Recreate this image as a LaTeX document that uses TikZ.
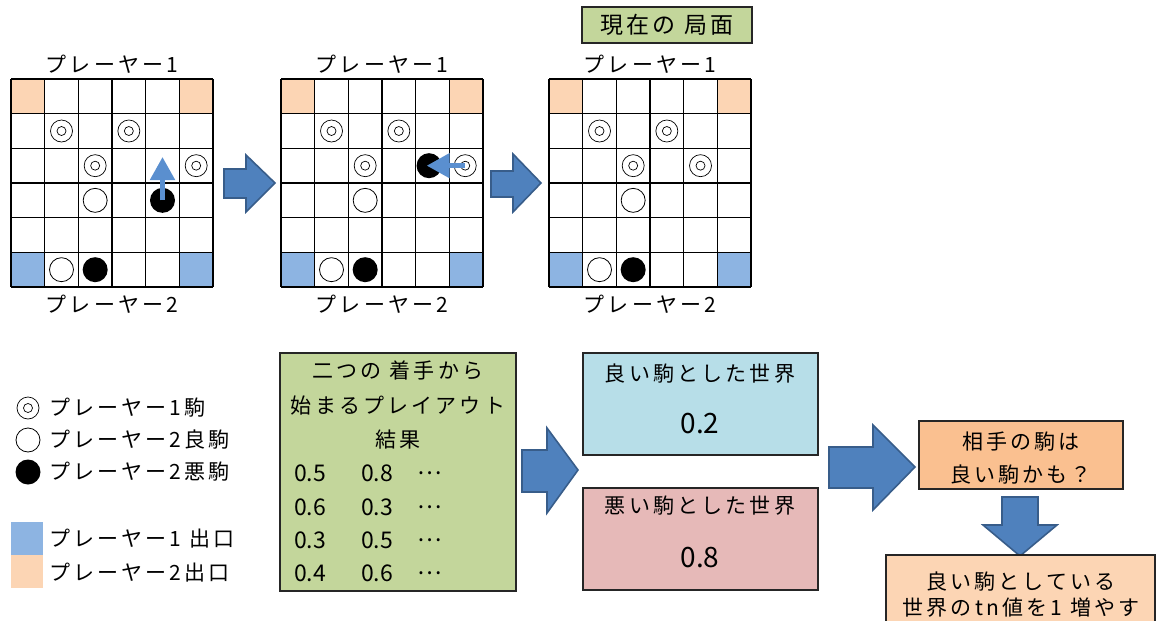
\documentclass[tikz,border=0pt]{standalone}
\usepackage{fontspec}
\setmainfont[LetterSpace=15]{Noto Sans CJK JP}
\newfontfamily\plainnum{Noto Sans CJK JP}
\usetikzlibrary{arrows.meta}
\definecolor{exitpeach}{HTML}{FCD5B4}
\definecolor{exitblue}{HTML}{8DB4E2}
\definecolor{boxgreen}{HTML}{C3D69B}
\definecolor{boxblue}{HTML}{B7DEE8}
\definecolor{boxpink}{HTML}{E6B9B8}
\definecolor{boxorange}{HTML}{FAC090}
\definecolor{arrowfill}{HTML}{4F81BD}
\definecolor{arrowdraw}{HTML}{385D8A}
\definecolor{movecol}{HTML}{5A8FCF}
\begin{document}
\begin{tikzpicture}[x=1pt,y=-1pt,
  every node/.style={inner sep=0pt, outer sep=0pt},
  lbl/.style={font=\fontsize{21}{25}\selectfont},
  numtxt/.style={font=\plainnum\fontsize{23}{26}\selectfont},
  bigtxt/.style={font=\plainnum\fontsize{28}{30}\selectfont},
  boxstyle/.style={draw=black!85, line width=1.3pt},
  pone/.style={circle, draw, line width=0.7pt, minimum size=22pt,
    path picture={\draw[line width=0.7pt] (path picture bounding box.center) circle (4.5pt);}},
  pgood/.style={circle, draw, line width=0.8pt, minimum size=24pt},
  pbad/.style={circle, fill=black, minimum size=25pt},
  movearrow/.style={draw=movecol, line width=5pt, -{Triangle[width=24pt,length=23pt]}},
  blockarrow/.style={fill=arrowfill, draw=arrowdraw, line width=1.6pt, line join=miter},
  gridline/.style={draw=black, line width=1.3pt}
]
\useasboundingbox (0,0) rectangle (1157,621);
\clip (0,0) rectangle (1157,621);

% ---------- boards ----------
\foreach \bx/\bn in {11/1, 281/2, 549/3} {
  \begin{scope}[xshift=\bx pt, yshift=-79pt, x=33.67pt, y=-34.67pt]
    \fill[exitpeach] (0,0) rectangle (1,1);
    \fill[exitpeach] (5,0) rectangle (6,1);
    \fill[exitblue] (0,5) rectangle (1,6);
    \fill[exitblue] (5,5) rectangle (6,6);
    \foreach \i in {0,...,6} {
      \draw[gridline] (\i,0) -- (\i,6);
      \draw[gridline] (0,\i) -- (6,\i);
    }
    \node[lbl] (top\bn) at (3,-0.42) {プレーヤー1};
    \node[lbl] (bot\bn) at (3,6.5) {プレーヤー2};
    \node[pone] (b\bn a) at (1.5,1.5) {};
    \node[pone] (b\bn b) at (3.5,1.5) {};
    \node[pone] (b\bn c) at (2.5,2.5) {};
    \node[pgood] (b\bn d) at (2.5,3.5) {};
    \node[pgood] (b\bn e) at (1.5,5.5) {};
    \node[pbad] (b\bn f) at (2.5,5.5) {};
  \end{scope}
}
% board 1 specifics
\begin{scope}[xshift=11pt, yshift=-79pt, x=33.67pt, y=-34.67pt]
  \node[pone] (b1g) at (5.5,2.5) {};
  \node[pbad] (b1mv) at (4.5,3.5) {};
  \coordinate (b1to) at (4.5,2.25);
  \draw[movearrow] (b1mv.center) -- (b1to);
\end{scope}
% board 2 specifics
\begin{scope}[xshift=281pt, yshift=-79pt, x=33.5pt, y=-34.67pt]
  \node[pbad] (b2h) at (4.42,2.5) {};
  \node[pone] (b2mv) at (5.5,2.5) {};
  \coordinate (b2to) at (4.35,2.5);
  \draw[movearrow] (b2mv.center) -- (b2to);
\end{scope}
% board 3 specifics
\begin{scope}[xshift=549pt, yshift=-79pt, x=33.67pt, y=-34.67pt]
  \node[pone] (b3g) at (4.5,2.5) {};
\end{scope}

% current position label
\node[boxstyle, fill=boxgreen, minimum width=170pt, minimum height=36pt,
  font=\fontsize{23}{26}\selectfont] (cur) at (667,25) {現在の 局面};

% block arrows between boards
\filldraw[blockarrow] (224,169) -- (246,169) -- (246,155) -- (275,183) -- (246,212) -- (246,198) -- (224,198) -- cycle;
\filldraw[blockarrow] (491,171) -- (513,171) -- (513,154) -- (541,183) -- (513,212) -- (513,197) -- (491,197) -- cycle;

% ---------- legend ----------
\node[pone] (lg1) at (28,408) {};
\node[pgood] (lg2) at (28,440) {};
\node[pbad] (lg3) at (28,472) {};
\node[lbl, anchor=west] (lt1) at (49,408) {プレーヤー1駒};
\node[lbl, anchor=west] (lt2) at (49,440) {プレーヤー2良駒};
\node[lbl, anchor=west] (lt3) at (49,472) {プレーヤー2悪駒};
\fill[exitblue] (11,522) rectangle (43,555);
\fill[exitpeach] (11,555) rectangle (43,588);
\node[lbl, anchor=west] (lt4) at (49,539) {プレーヤー1 出口};
\node[lbl, anchor=west] (lt5) at (49,573) {プレーヤー2出口};

% ---------- playout box ----------
\node[boxstyle, fill=boxgreen, minimum width=236pt, minimum height=238pt] (play) at (398,472) {};
\node[lbl] (pl1) at (398,370) {二つの 着手から};
\node[lbl] (pl2) at (398,406) {始まるプレイアウト};
\node[lbl] (pl3) at (398,440) {結果};
\foreach \y/\a/\b in {473/0.5/0.8, 507/0.6/0.3, 540/0.3/0.5, 573/0.4/0.6} {
  \node[numtxt, anchor=west] at (294,\y) {\a};
  \node[numtxt, anchor=west] at (361,\y) {\b};
  \node[numtxt, anchor=west] at (417,\y) {…};
}

% middle arrow
\filldraw[blockarrow] (522,450) -- (547,450) -- (547,428) -- (578,470) -- (547,513) -- (547,492) -- (522,492) -- cycle;

% ---------- world boxes ----------
\node[boxstyle, fill=boxblue, minimum width=235pt, minimum height=102pt] (good) at (700.5,404) {};
\node[lbl] (gt1) at (700,374) {良い駒とした世界};
\node[bigtxt] (gt2) at (700,424) {0.2};
\node[boxstyle, fill=boxpink, minimum width=235pt, minimum height=102pt] (bad) at (700.5,539) {};
\node[lbl] (bt1) at (700,506) {悪い駒とした世界};
\node[bigtxt] (bt2) at (700,558) {0.8};

% right arrow
\filldraw[blockarrow] (829,447) -- (873,447) -- (873,425) -- (915,467) -- (873,510) -- (873,488) -- (829,488) -- cycle;

% ---------- conclusion boxes ----------
\node[boxstyle, fill=boxorange, minimum width=204pt, minimum height=68pt] (guess) at (1021,455) {};
\node[lbl] (gu1) at (1021,442) {相手の駒は};
\node[lbl] (gu2) at (1021,475) {良い駒かも？};

% down arrow
\filldraw[blockarrow] (1002,497) -- (1038,497) -- (1038,525) -- (1057,525) -- (1020,556) -- (983,525) -- (1002,525) -- (1002,497) -- cycle;

\node[boxstyle, fill=exitpeach, minimum width=269pt, minimum height=90pt] (inc) at (1020.5,600) {};
\node[lbl] (in1) at (1021,582) {良い駒としている};
\node[lbl] (in2) at (1021,608) {世界のtn値を1 増やす};
\end{tikzpicture}
\end{document}
